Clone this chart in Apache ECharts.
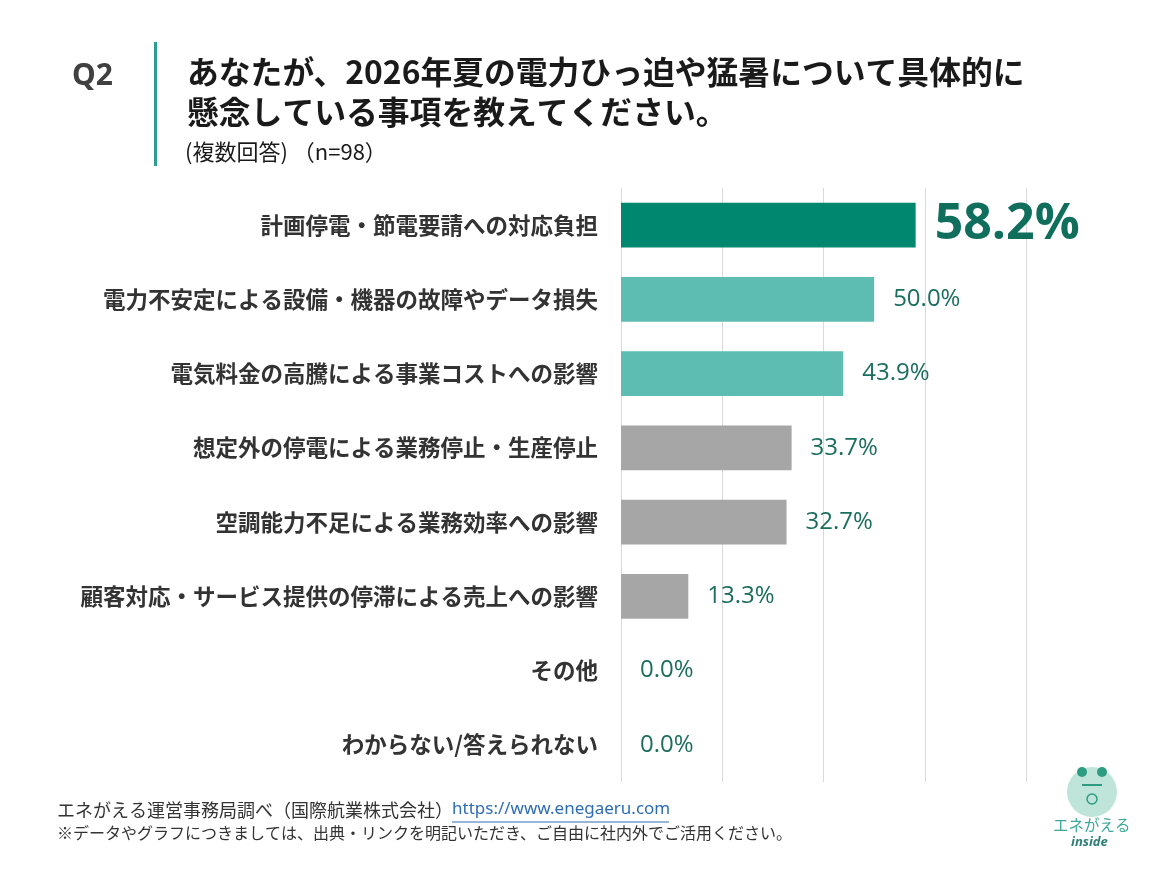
<!DOCTYPE html>
<html>
<head>
<meta charset="utf-8">
<script src="https://cdn.jsdelivr.net/npm/echarts@6/dist/echarts.min.js"></script>
<style>
html,body{margin:0;padding:0;background:#fff;}
#chart{width:1159px;height:869px;}
</style>
</head>
<body>
<div id="chart"></div>
<script>
var categories = [
  '計画停電・節電要請への対応負担',
  '電力不安定による設備・機器の故障やデータ損失',
  '電気料金の高騰による事業コストへの影響',
  '想定外の停電による業務停止・生産停止',
  '空調能力不足による業務効率への影響',
  '顧客対応・サービス提供の停滞による売上への影響',
  'その他',
  'わからない/答えられない'
];
var values = [58.2, 50.0, 43.9, 33.7, 32.7, 13.3, 0.0, 0.0];
var axisTicks = [0, 20, 40, 60, 80];

var titleLine1 = 'あなたが、2026年夏の電力ひっ迫や猛暑について具体的に';
var titleLine2 = '懸念している事項を教えてください。';
var subTitle = '(複数回答) （n=98）';
var footer1 = 'エネがえる運営事務局調べ（国際航業株式会社）';
var footerLink = 'https://www.enegaeru.com';
var footer2 = '※データやグラフにつきましては、出典・リンクを明記いただき、ご自由に社内外でご活用ください。';

var COLOR_TOP = '#00876F';
var COLOR_MID = '#5DBDB2';
var COLOR_LOW = '#A6A6A6';
var LABEL_COLOR = '#1B6E5E';

function barColor(i) {
  if (i === 0) return COLOR_TOP;
  if (i <= 2) return COLOR_MID;
  return COLOR_LOW;
}

var seriesData = values.map(function (v, i) {
  var item = { value: v, itemStyle: { color: barColor(i) } };
  if (i === 0) {
    item.label = { fontSize: 50, fontWeight: 'bold', color: '#0F6F5C' };
  }
  return item;
});

var chart = echarts.init(document.getElementById('chart'));
var JP = '"Noto Sans CJK JP", "Noto Sans", sans-serif';

chart.setOption({
  backgroundColor: '#ffffff',
  animation: false,
  grid: { left: 621, right: 133, top: 188, bottom: 87 },
  xAxis: {
    type: 'value',
    min: axisTicks[0],
    max: axisTicks[axisTicks.length - 1],
    interval: axisTicks[1] - axisTicks[0],
    axisLabel: { show: false },
    axisLine: { show: false },
    axisTick: { show: false },
    splitLine: { show: true, lineStyle: { color: '#D9D9D9', width: 1 } }
  },
  yAxis: {
    type: 'category',
    inverse: true,
    data: categories,
    axisLine: { show: false },
    axisTick: { show: false },
    axisLabel: {
      margin: 23,
      fontFamily: JP,
      fontSize: 22.5,
      fontWeight: 'bold',
      color: '#333333'
    }
  },
  series: [{
    type: 'bar',
    data: seriesData,
    barWidth: '60%',
    label: {
      show: true,
      position: 'right',
      distance: 19,
      fontFamily: '"Open Sans", "Noto Sans", sans-serif',
      fontSize: 24,
      color: LABEL_COLOR,
      formatter: function (p) { return p.value.toFixed(1) + '%'; }
    }
  }],
  graphic: [
    { type: 'text', left: 72, top: 61, style: { text: 'Q2', font: 'bold 30px "Noto Sans", sans-serif', fill: '#404040' } },
    { type: 'rect', shape: { x: 154, y: 42, width: 3, height: 124 }, style: { fill: '#2E9C93' } },
    { type: 'text', left: 187, top: 56, style: { text: titleLine1, font: 'bold 31.8px ' + JP, fill: '#1a1a1a' } },
    { type: 'text', left: 187, top: 96, style: { text: titleLine2, font: 'bold 31.8px ' + JP, fill: '#1a1a1a' } },
    { type: 'text', left: 185, top: 141, style: { text: subTitle, font: '22px ' + JP, fill: '#1a1a1a' } },
    { type: 'text', left: 57, top: 801, style: { text: footer1, font: '18px ' + JP, fill: '#333333' } },
    { type: 'text', left: 452, top: 801, style: { text: footerLink, font: '17px "Noto Sans", sans-serif', fill: '#2E6DB4' } },
    { type: 'line', shape: { x1: 452, y1: 822, x2: 669, y2: 822 }, style: { stroke: '#2E6DB4', lineWidth: 1 } },
    { type: 'text', left: 57, top: 825, style: { text: footer2, font: '16px ' + JP, fill: '#333333' } },
    { type: 'circle', shape: { cx: 1092, cy: 792, r: 25 }, style: { fill: '#BFE5DA' } },
    { type: 'circle', shape: { cx: 1082, cy: 772, r: 5 }, style: { fill: '#2E9C80' } },
    { type: 'circle', shape: { cx: 1102, cy: 772, r: 5 }, style: { fill: '#2E9C80' } },
    { type: 'line', shape: { x1: 1082, y1: 785, x2: 1102, y2: 785 }, style: { stroke: '#2E9C80', lineWidth: 2 } },
    { type: 'circle', shape: { cx: 1092, cy: 799, r: 5 }, style: { fill: 'none', stroke: '#2E9C80', lineWidth: 1.5 } },
    { type: 'text', left: 1053, top: 817, style: { text: 'エネがえる', font: '15.5px ' + JP, fill: '#3DA89A' } },
    { type: 'text', left: 1071, top: 836, style: { text: 'inside', font: 'italic bold 13px "Noto Sans", sans-serif', fill: '#2C7F74' } }
  ]
});
</script>
</body>
</html>
